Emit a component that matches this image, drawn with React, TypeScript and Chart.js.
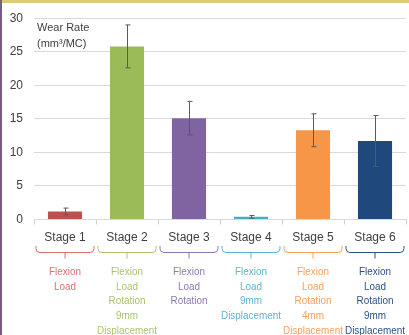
import React, { useEffect, useRef } from "react";
import { Chart, registerables } from "chart.js";

Chart.register(...registerables);

const categories = ["Stage 1", "Stage 2", "Stage 3", "Stage 4", "Stage 5", "Stage 6"];
const wearRates = [1.2, 25.8, 15.1, 0.4, 13.3, 11.7];
const errors = [0.5, 3.2, 2.5, 0.2, 2.45, 3.8];
const descriptions = [
  ["Flexion", "Load"],
  ["Flexion", "Load", "Rotation", "9mm", "Displacement"],
  ["Flexion", "Load", "Rotation"],
  ["Flexion", "Load", "9mm", "Displacement"],
  ["Flexion", "Load", "Rotation", "4mm", "Displacement"],
  ["Flexion", "Load", "Rotation", "9mm", "Displacement"],
];
const yTicks = [0, 5, 10, 15, 20, 25, 30];

const barColors = ["#c0504d", "#9bbb59", "#8064a2", "#4bacc6", "#f79646", "#1f497d"];
const textColors = ["#de6f6b", "#a9c46e", "#8e78b3", "#5bb6cf", "#f8a05c", "#2c5187"];

const FONT = "'Liberation Sans', Arial, sans-serif";

const decorPlugin = {
  id: "decor",
  afterDatasetsDraw(chart: any) {
    const ctx = chart.ctx;
    const y = chart.scales.y;
    const x = chart.scales.x;
    ctx.save();
    ctx.strokeStyle = "#5a5a5a";
    ctx.lineWidth = 1;
    wearRates.forEach((v, i) => {
      const cx = Math.round(x.getPixelForValue(i)) + 0.5;
      const top = y.getPixelForValue(v + errors[i]);
      const bot = y.getPixelForValue(v - errors[i]);
      ctx.beginPath();
      ctx.moveTo(cx, top);
      ctx.lineTo(cx, bot);
      ctx.moveTo(cx - 2, top);
      ctx.lineTo(cx + 3, top);
      ctx.moveTo(cx - 2, bot);
      ctx.lineTo(cx + 3, bot);
      ctx.stroke();
    });
    ctx.restore();
  },
  afterDraw(chart: any) {
    const ctx = chart.ctx;
    const x = chart.scales.x;
    const area = chart.chartArea;
    ctx.save();
    // axis title
    ctx.fillStyle = "#404040";
    ctx.font = `11px ${FONT}`;
    ctx.textAlign = "left";
    ctx.textBaseline = "middle";
    ctx.fillText("Wear Rate", area.left + 3, 28);
    ctx.fillText("(mm³/MC)", area.left + 3, 44);

    const half = (x.getPixelForValue(1) - x.getPixelForValue(0)) / 2;
    categories.forEach((_, i) => {
      const cx = x.getPixelForValue(i);
      const l = cx - half + 2;
      const r = cx + half - 2;
      const yt = 246;
      const yb = 252.5;
      const rad = 4;
      ctx.strokeStyle = textColors[i];
      ctx.lineWidth = 1;
      ctx.beginPath();
      ctx.moveTo(l, yt);
      ctx.lineTo(l, yb - rad);
      ctx.quadraticCurveTo(l, yb, l + rad, yb);
      ctx.lineTo(r - rad, yb);
      ctx.quadraticCurveTo(r, yb, r, yb - rad);
      ctx.lineTo(r, yt);
      ctx.moveTo(cx, yb);
      ctx.lineTo(cx, yb + 6);
      ctx.stroke();

      ctx.fillStyle = textColors[i];
      ctx.font = `11px ${FONT}`;
      ctx.textAlign = "center";
      ctx.textBaseline = "middle";
      descriptions[i].forEach((line, j) => {
        ctx.save();
        ctx.translate(cx, 272 + j * 14.7);
        ctx.scale(0.9, 1);
        ctx.fillText(line, 0, 0);
        ctx.restore();
      });
    });

    // frame decorations
    ctx.fillStyle = "#dccb7a";
    ctx.fillRect(0, 0, chart.width, 3);
    ctx.fillStyle = "#7a5c8c";
    ctx.fillRect(0, 0, 2, chart.height);
    ctx.restore();
  },
};

export default function App() {
  const ref = useRef<HTMLCanvasElement>(null);
  useEffect(() => {
    document.body.style.margin = "0";
    const chart = new Chart(ref.current!, {
      type: "bar",
      data: {
        labels: categories,
        datasets: [
          {
            data: wearRates,
            backgroundColor: barColors,
            borderWidth: 0,
            barPercentage: 0.55,
            categoryPercentage: 1,
          },
        ],
      },
      options: {
        animation: false,
        responsive: false,
        maintainAspectRatio: false,
        layout: { padding: { top: 16, right: 3, left: 0, bottom: 0 } },
        plugins: { legend: { display: false }, tooltip: { enabled: false } },
        scales: {
          x: {
            offset: true,
            grid: {
              offset: true,
              drawOnChartArea: false,
              drawTicks: true,
              tickLength: 5,
              color: "#d0d0d0",
            },
            border: { display: true, color: "#d9d9d9" },
            ticks: {
              color: "#404040",
              font: { size: 12, family: FONT },
              padding: 6,
              maxRotation: 0,
            },
            afterFit: (s: any) => {
              s.height = 335 - 16 - 203.5;
            },
          },
          y: {
            min: 0,
            max: 30,
            afterBuildTicks: (s: any) => {
              s.ticks = yTicks.map((v) => ({ value: v }));
            },
            grid: { color: "#d9d9d9", drawTicks: false },
            border: { display: false },
            ticks: {
              color: "#404040",
              font: { size: 12, family: FONT },
              padding: 11,
            },
            afterFit: (s: any) => {
              s.width = 34;
            },
          },
        },
      },
      plugins: [decorPlugin],
    });
    return () => chart.destroy();
  }, []);
  return (
    <div style={{ width: 409, height: 335 }}>
      <canvas ref={ref} width={409} height={335} style={{ display: "block" }} />
    </div>
  );
}
